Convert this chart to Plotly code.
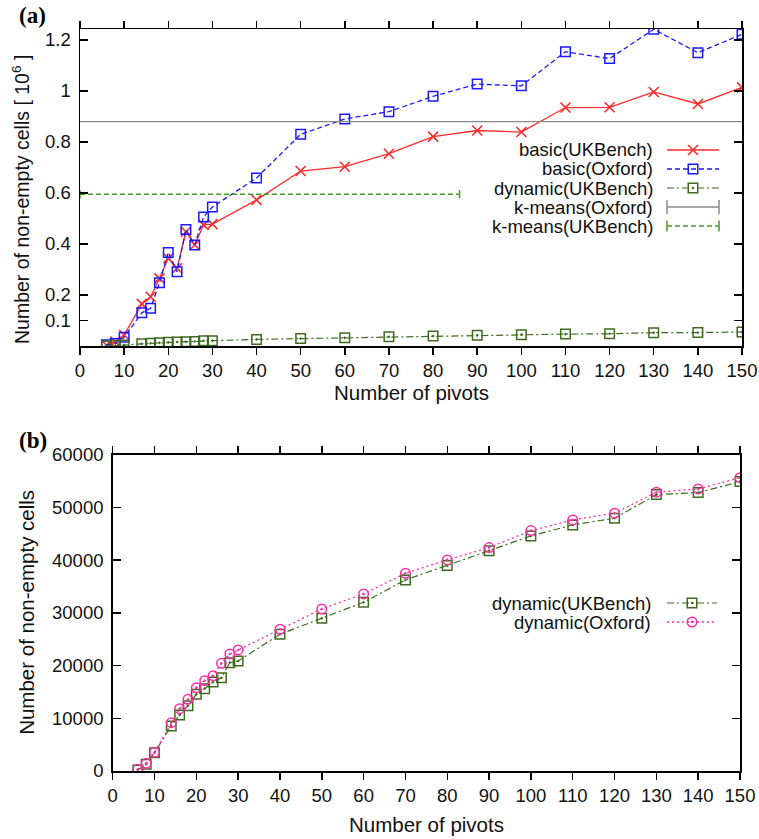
import plotly.graph_objects as go

# ---------------- data ----------------
pivots = [6, 8, 10, 14, 16, 18, 20, 22, 24, 26, 28, 30, 40, 50, 60, 70, 80, 90, 100, 110, 120, 130, 140, 150]

basic_ukbench = [0.003, 0.017, 0.043, 0.165, 0.193, 0.265, 0.344, 0.305, 0.448, 0.396, 0.475, 0.478,
                 0.573, 0.686, 0.703, 0.754, 0.821, 0.845, 0.839, 0.935, 0.936, 0.996, 0.949, 1.014]
basic_oxford = [0.005, 0.010, 0.034, 0.130, 0.148, 0.248, 0.367, 0.291, 0.457, 0.396, 0.506, 0.545,
                0.659, 0.830, 0.890, 0.919, 0.979, 1.027, 1.020, 1.154, 1.127, 1.242, 1.150, 1.222]

dynamic_ukbench = [200, 1270, 3480, 8540, 10630, 12400, 14550, 15620, 16890, 17700, 20550, 20870,
                   25940, 28970, 32010, 36240, 38960, 41800, 44590, 46680, 47950, 52430, 52810, 54900]
dynamic_oxford = [320, 1460, 3540, 9170, 11820, 13600, 15810, 17140, 18090, 20430, 22200, 22960,
                  26890, 30740, 33590, 37510, 40040, 42380, 45600, 47630, 48900, 52880, 53510, 55650]

kmeans_oxford_level = 0.88
kmeans_oxford_span = [0, 150]
kmeans_ukbench_level = 0.595
kmeans_ukbench_span = [0, 86]

x_ticks = list(range(0, 151, 10))
top_y_ticks = [0.1, 0.2, 0.4, 0.6, 0.8, 1.0, 1.2]
top_y_labels = ["0.1", "0.2", "0.4", "0.6", "0.8", "1", "1.2"]
bottom_y_ticks = [0, 10000, 20000, 30000, 40000, 50000, 60000]
bottom_y_labels = ["0", "10000", "20000", "30000", "40000", "50000", "60000"]

# ---------------- styles ----------------
W, H = 759, 839
FONT = "Liberation Sans, Arial, Helvetica, sans-serif"
TXT = "#111111"
RED = "#ff2a2a"
BLUE = "#1a1aff"
DGREEN = "#3d6b1e"
GRAY = "#8a8a8a"
LGREEN = "#4a9a2a"
PINK = "#ff2aa6"

DASH_BLUE = "5px,3px"
DASH_DGREEN = "7px,3px,2px,3px"
DASH_LGREEN = "5px,3px"
DASH_PINK = "2px,3px"

TICK_SIZE = 18.5
TITLE_SIZE = 20.5
LEGEND_SIZE = 18.5


def px_x(p):
    return p / W


def px_y(p):
    return 1 - p / H


fig = go.Figure()

# ---------------- top panel (a) ----------------
fig.add_trace(go.Scatter(x=pivots, y=basic_ukbench, mode="lines+markers",
                         line=dict(color=RED, width=1.3),
                         marker=dict(symbol="x-thin-open", size=10, color=RED,
                                     line=dict(color=RED, width=1.6)),
                         xaxis="x", yaxis="y", showlegend=False))
fig.add_trace(go.Scatter(x=pivots, y=basic_oxford, mode="lines+markers",
                         line=dict(color=BLUE, width=1.3, dash=DASH_BLUE),
                         marker=dict(symbol="square-open", size=9.5, color=BLUE,
                                     line=dict(color=BLUE, width=1.5)),
                         xaxis="x", yaxis="y", showlegend=False))
fig.add_trace(go.Scatter(x=pivots, y=[v / 1e6 for v in dynamic_ukbench], mode="lines+markers",
                         line=dict(color=DGREEN, width=1.2, dash=DASH_DGREEN),
                         marker=dict(symbol="square-open-dot", size=9.5, color=DGREEN,
                                     line=dict(color=DGREEN, width=1.5)),
                         xaxis="x", yaxis="y", showlegend=False))
fig.add_trace(go.Scatter(x=kmeans_oxford_span, y=[kmeans_oxford_level] * 2, mode="lines",
                         line=dict(color=GRAY, width=1.3),
                         xaxis="x", yaxis="y", showlegend=False))
fig.add_trace(go.Scatter(x=kmeans_ukbench_span, y=[kmeans_ukbench_level] * 2, mode="lines+markers",
                         line=dict(color=LGREEN, width=1.3, dash=DASH_LGREEN),
                         marker=dict(symbol="line-ns", size=6, color=LGREEN,
                                     line=dict(color=LGREEN, width=1.5)),
                         xaxis="x", yaxis="y", showlegend=False))

# ---------------- bottom panel (b) ----------------
fig.add_trace(go.Scatter(x=pivots, y=dynamic_ukbench, mode="lines+markers",
                         line=dict(color=DGREEN, width=1.2, dash=DASH_DGREEN),
                         marker=dict(symbol="square-open-dot", size=9.5, color=DGREEN,
                                     line=dict(color=DGREEN, width=1.5)),
                         xaxis="x2", yaxis="y2", showlegend=False))
fig.add_trace(go.Scatter(x=pivots, y=dynamic_oxford, mode="lines+markers",
                         line=dict(color=PINK, width=1.3, dash=DASH_PINK),
                         marker=dict(symbol="circle-open-dot", size=9.5, color=PINK,
                                     line=dict(color=PINK, width=1.5)),
                         xaxis="x2", yaxis="y2", showlegend=False))

# ---------------- custom gnuplot-style legends (overlay pixel axis) ----------------
legend_items_top = [
    ("basic(UKBench)", dict(color=RED, width=1.3), dict(symbol="x-thin-open", size=10, color=RED, line=dict(color=RED, width=1.6)), "mid"),
    ("basic(Oxford)", dict(color=BLUE, width=1.3, dash=DASH_BLUE), dict(symbol="square-open", size=9.5, color=BLUE, line=dict(color=BLUE, width=1.5)), "mid"),
    ("dynamic(UKBench)", dict(color=DGREEN, width=1.2, dash=DASH_DGREEN), dict(symbol="square-open-dot", size=9.5, color=DGREEN, line=dict(color=DGREEN, width=1.5)), "mid"),
    ("k-means(Oxford)", dict(color=GRAY, width=1.3), dict(symbol="line-ns", size=10, color=GRAY, line=dict(color=GRAY, width=1.5)), "ends"),
    ("k-means(UKBench)", dict(color=LGREEN, width=1.3, dash=DASH_LGREEN), dict(symbol="line-ns", size=8, color=LGREEN, line=dict(color=LGREEN, width=1.5)), "ends"),
]
legend_items_bottom = [
    ("dynamic(UKBench)", dict(color=DGREEN, width=1.2, dash=DASH_DGREEN), dict(symbol="square-open-dot", size=9.5, color=DGREEN, line=dict(color=DGREEN, width=1.5)), "mid"),
    ("dynamic(Oxford)", dict(color=PINK, width=1.3, dash=DASH_PINK), dict(symbol="circle-open-dot", size=9.5, color=PINK, line=dict(color=PINK, width=1.5)), "mid"),
]

annotations = []


def add_legend(items, text_right, x0, x1, y_first, dy):
    for i, (label, ln, mk, style) in enumerate(items):
        yy = y_first + i * dy
        fig.add_trace(go.Scatter(x=[x0, x1], y=[yy, yy], mode="lines", line=ln,
                                 xaxis="x3", yaxis="y3", showlegend=False, hoverinfo="skip"))
        if style == "mid":
            mx, my = [(x0 + x1) / 2], [yy]
        else:
            mx, my = [x0, x1], [yy, yy]
        fig.add_trace(go.Scatter(x=mx, y=my, mode="markers", marker=mk,
                                 xaxis="x3", yaxis="y3", showlegend=False, hoverinfo="skip"))
        annotations.append(dict(text=label, x=px_x(text_right), y=px_y(yy), xref="paper", yref="paper",
                                xanchor="right", yanchor="middle", showarrow=False,
                                font=dict(family=FONT, size=LEGEND_SIZE, color=TXT)))


add_legend(legend_items_top, 655, 667, 719, 150, 19)
add_legend(legend_items_bottom, 653, 667, 717, 603, 19)


# ---------------- axes ----------------
def xaxis_cfg(domain, anchor):
    return dict(domain=domain, anchor=anchor, range=[0, 150], tickvals=x_ticks,
                showline=True, linecolor="black", linewidth=1.5, mirror="ticks",
                ticks="outside", ticklen=7, tickwidth=1.5, tickcolor="black",
                showgrid=False, zeroline=False, automargin=False,
                tickfont=dict(family=FONT, size=TICK_SIZE, color=TXT))


def yaxis_cfg(domain, anchor, rng, tv, tt):
    return dict(domain=domain, anchor=anchor, range=rng, tickvals=tv, ticktext=tt,
                showline=True, linecolor="black", linewidth=1.5, mirror="ticks",
                ticks="inside", ticklen=8, tickwidth=1.5, tickcolor="black",
                showgrid=False, zeroline=False, ticklabelstandoff=4, automargin=False,
                tickfont=dict(family=FONT, size=TICK_SIZE, color=TXT))


top_x_dom = [px_x(80), px_x(742)]
top_y_dom = [px_y(346), px_y(29)]
bot_x_dom = [px_x(112.7), px_x(740)]
bot_y_dom = [px_y(771), px_y(454.7)]

annotations += [
    dict(text="<b>(a)</b>", x=px_x(17), y=px_y(1), xref="paper", yref="paper", xanchor="left", yanchor="top",
         showarrow=False, font=dict(family="Liberation Serif, Times New Roman, serif", size=23, color="black")),
    dict(text="<b>(b)</b>", x=px_x(17), y=px_y(426), xref="paper", yref="paper", xanchor="left", yanchor="top",
         showarrow=False, font=dict(family="Liberation Serif, Times New Roman, serif", size=23, color="black")),
    dict(text="Number of pivots", x=(top_x_dom[0] + top_x_dom[1]) / 2, y=px_y(392), xref="paper", yref="paper",
         xanchor="center", yanchor="middle", showarrow=False, font=dict(family=FONT, size=TITLE_SIZE, color=TXT)),
    dict(text="Number of pivots", x=(bot_x_dom[0] + bot_x_dom[1]) / 2, y=px_y(824), xref="paper", yref="paper",
         xanchor="center", yanchor="middle", showarrow=False, font=dict(family=FONT, size=TITLE_SIZE, color=TXT)),
    dict(text="Number of non-empty cells [ 10<sup>6</sup> ]", x=px_x(21), y=px_y(200),
         xref="paper", yref="paper", xanchor="center", yanchor="middle", textangle=-90, showarrow=False,
         font=dict(family=FONT, size=19.5, color=TXT)),
    dict(text="Number of non-empty cells", x=px_x(27), y=(bot_y_dom[0] + bot_y_dom[1]) / 2,
         xref="paper", yref="paper", xanchor="center", yanchor="middle", textangle=-90, showarrow=False,
         font=dict(family=FONT, size=TITLE_SIZE, color=TXT)),
]

fig.update_layout(
    width=W, height=H,
    margin=dict(l=0, r=0, t=0, b=0, pad=0),
    paper_bgcolor="white", plot_bgcolor="rgba(0,0,0,0)",
    showlegend=False,
    xaxis=xaxis_cfg(top_x_dom, "y"),
    yaxis=yaxis_cfg(top_y_dom, "x", [0, 1.243], top_y_ticks, top_y_labels),
    xaxis2=xaxis_cfg(bot_x_dom, "y2"),
    yaxis2=yaxis_cfg(bot_y_dom, "x2", [0, 60000], bottom_y_ticks, bottom_y_labels),
    xaxis3=dict(domain=[0, 1], anchor="y3", range=[0, W], visible=False, fixedrange=True),
    yaxis3=dict(domain=[0, 1], anchor="x3", range=[H, 0], visible=False, fixedrange=True),
    annotations=annotations,
)

fig.write_html("out.html", config={"displayModeBar": False, "staticPlot": True},
               post_script="document.body.style.margin='0px';document.body.style.overflow='hidden';")
